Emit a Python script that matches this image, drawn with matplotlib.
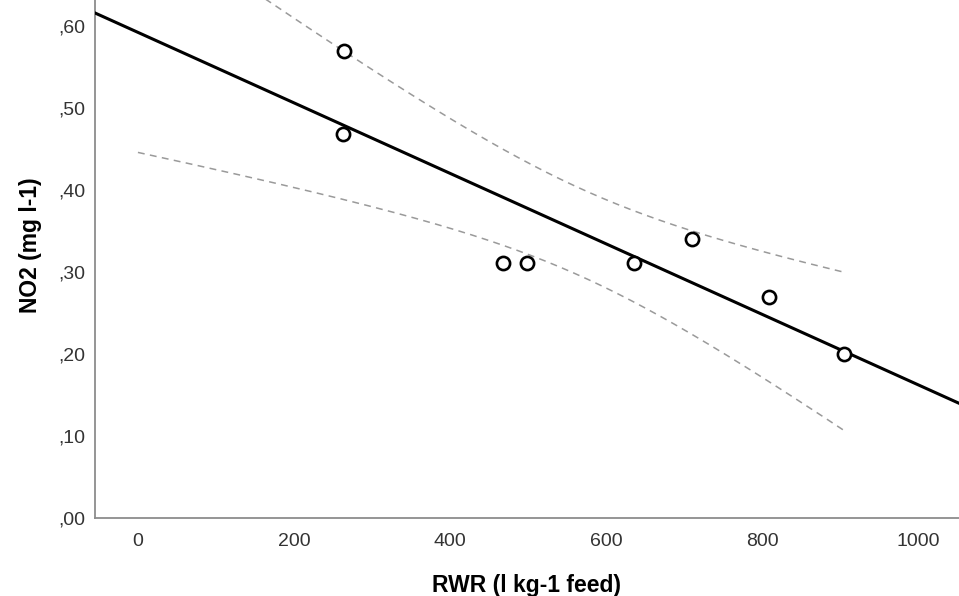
import numpy as np
import matplotlib
matplotlib.use("Agg")
import matplotlib.pyplot as plt
from matplotlib.ticker import FuncFormatter

# data
rwr = np.array([264, 263, 468, 499, 635, 710, 808, 905])
no2 = np.array([0.570, 0.469, 0.311, 0.311, 0.311, 0.340, 0.270, 0.200])

x_ticks = [0, 200, 400, 600, 800, 1000]
y_ticks = [0.0, 0.1, 0.2, 0.3, 0.4, 0.5, 0.6]
t_crit = 2.447  # t(0.975, df=6)

plt.rcParams['font.family'] = ['Liberation Sans', 'DejaVu Sans']

fig = plt.figure(figsize=(9.59, 5.96), dpi=100)
ax = fig.add_axes([95 / 959, 78 / 596, 864 / 959, 518 / 596])
ax.set_xlim(-55, 1052)
ax.set_ylim(0, 0.632)

# linear fit + 95% CI for the mean
n = len(rwr)
slope, icpt = np.polyfit(rwr, no2, 1)
resid = no2 - (icpt + slope * rwr)
s = np.sqrt(np.sum(resid ** 2) / (n - 2))
sxx = np.sum((rwr - rwr.mean()) ** 2)

xl = np.array(ax.get_xlim())
ax.plot(xl, icpt + slope * xl, color='black', lw=2.2, zorder=3)

xc = np.linspace(0, rwr.max(), 200)
half = t_crit * s * np.sqrt(1 / n + (xc - rwr.mean()) ** 2 / sxx)
fitc = icpt + slope * xc
for band in (fitc + half, fitc - half):
    ax.plot(xc, band, color='#9a9a9a', lw=1.1, ls=(0, (4.5, 3.5)), zorder=2)

ax.plot(rwr, no2, 'o', mfc='white', mec='black', mew=1.9, ms=9.5, zorder=4)

ax.set_xticks(x_ticks)
ax.set_yticks(y_ticks)
ax.yaxis.set_major_formatter(FuncFormatter(lambda v, p: ('%.2f' % v)[1:].replace('.', ',')))
ax.tick_params(length=0, labelsize=14, labelcolor='#333333')
ax.tick_params(axis='x', pad=11)
ax.tick_params(axis='y', pad=7)

for sp in ['top', 'right']:
    ax.spines[sp].set_visible(False)
for sp in ['left', 'bottom']:
    ax.spines[sp].set_color('#8c8c8c')
    ax.spines[sp].set_linewidth(1.3)

ax.set_xlabel('RWR (l kg-1 feed)', fontsize=16.5, fontweight='bold')
ax.set_ylabel('NO2 (mg l-1)', fontsize=16.5, fontweight='bold')
ax.xaxis.set_label_coords(0.5, -0.108)
ax.yaxis.set_label_coords(-0.061, 0.527)

fig.savefig('out.png', dpi=100)
